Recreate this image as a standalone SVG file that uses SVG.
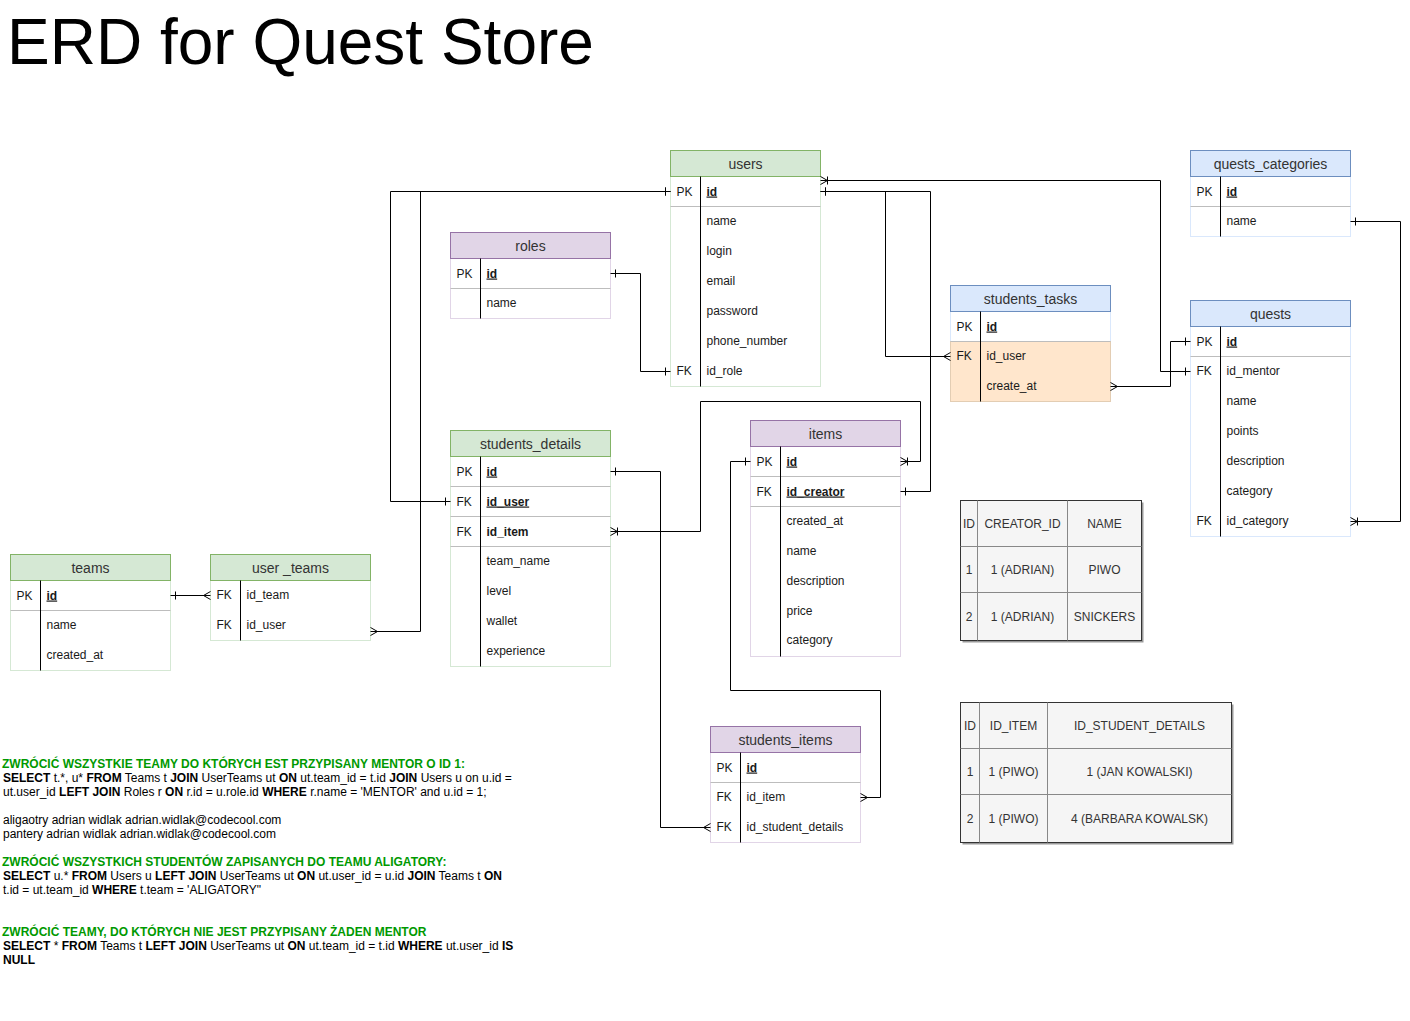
<svg xmlns="http://www.w3.org/2000/svg" width="1410" height="1021" viewBox="0 0 1410 1021">
<style>
text{font-family:"Liberation Sans",Arial,Helvetica,sans-serif}
.title{font-size:64px;fill:#000}
.ht{font-size:14px;fill:#333;text-anchor:middle}
.k,.f{font-size:12px;fill:#1a1a1a}
.pk{font-weight:bold;text-decoration:underline}
.bo{font-weight:bold}
.sep{stroke:#bdbdbd;stroke-width:1}
.kd{stroke:#000;stroke-width:1}
.hg{fill:#d5e8d4;stroke:#82b366}
.bg{fill:#fff;stroke:#d5e8d4}
.hp{fill:#e1d5e7;stroke:#9673a6}
.bp{fill:#fff;stroke:#e1d5e7}
.hb{fill:#dae8fc;stroke:#6c8ebf}
.bb{fill:#fff;stroke:#dae8fc}
.orange{fill:#ffe6cc;stroke:#e3cdb3}
#connectors path{fill:none;stroke:#000;stroke-width:1}
.mk{fill:none;stroke:#000;stroke-width:1}
.dts{fill:#999;stroke:none}
.dtr{fill:#f5f5f5;stroke:#333}
.dtl{stroke:#888;stroke-width:1}
.dtt{font-size:12px;fill:#333;text-anchor:middle}
.q{font-size:12px;fill:#000}
.qg{font-size:12px;font-weight:bold;fill:#009900}
</style>
<defs>
<marker id="oneE" viewBox="-10 -10 20 20" markerWidth="20" markerHeight="20" refX="0" refY="0" orient="auto" markerUnits="userSpaceOnUse"><path class="mk" d="M-5,-4 V4"/></marker>
<marker id="manyE" viewBox="-10 -10 20 20" markerWidth="20" markerHeight="20" refX="0" refY="0" orient="auto" markerUnits="userSpaceOnUse"><path class="mk" d="M-7,0 L0,-4 M-7,0 L0,4"/></marker>
<marker id="omE" viewBox="-10 -10 20 20" markerWidth="20" markerHeight="20" refX="0" refY="0" orient="auto" markerUnits="userSpaceOnUse"><path class="mk" d="M-7,0 L0,-4 M-7,0 L0,4 M-7,-4 V4"/></marker>
<marker id="oneS" viewBox="-10 -10 20 20" markerWidth="20" markerHeight="20" refX="0" refY="0" orient="auto" markerUnits="userSpaceOnUse"><path class="mk" d="M5,-4 V4"/></marker>
<marker id="manyS" viewBox="-10 -10 20 20" markerWidth="20" markerHeight="20" refX="0" refY="0" orient="auto" markerUnits="userSpaceOnUse"><path class="mk" d="M7,0 L0,-4 M7,0 L0,4"/></marker>
<marker id="omS" viewBox="-10 -10 20 20" markerWidth="20" markerHeight="20" refX="0" refY="0" orient="auto" markerUnits="userSpaceOnUse"><path class="mk" d="M7,0 L0,-4 M7,0 L0,4 M7,-4 V4"/></marker>
</defs>
<rect width="1410" height="1021" fill="#fff"/>
<text class="title" x="7" y="64">ERD for Quest Store</text>
<g transform="translate(0.5,0.5)">

<g id="users">
<rect class="bg" x="670" y="176" width="150" height="210"/>
<rect class="hg" x="670" y="150" width="150" height="26"/>
<line class="sep" x1="670" y1="206" x2="820" y2="206"/>
<line class="kd" x1="700" y1="176" x2="700" y2="386"/>
<text class="ht" x="745" y="168">users</text>
<text class="k" x="676" y="195">PK</text><text class="f pk" x="706" y="195">id</text>
<text class="f" x="706" y="224">name</text>
<text class="f" x="706" y="254">login</text>
<text class="f" x="706" y="284">email</text>
<text class="f" x="706" y="314">password</text>
<text class="f" x="706" y="344">phone_number</text>
<text class="k" x="676" y="374">FK</text><text class="f" x="706" y="374">id_role</text>
</g>

<g id="roles">
<rect class="bp" x="450" y="258" width="160" height="60"/>
<rect class="hp" x="450" y="232" width="160" height="26"/>
<line class="sep" x1="450" y1="288" x2="610" y2="288"/>
<line class="kd" x1="480" y1="258" x2="480" y2="318"/>
<text class="ht" x="530" y="250">roles</text>
<text class="k" x="456" y="277">PK</text><text class="f pk" x="486" y="277">id</text>
<text class="f" x="486" y="306">name</text>
</g>

<g id="students_details">
<rect class="bg" x="450" y="456" width="160" height="210"/>
<rect class="hg" x="450" y="430" width="160" height="26"/>
<line class="sep" x1="450" y1="486" x2="610" y2="486"/>
<line class="sep" x1="450" y1="516" x2="610" y2="516"/>
<line class="sep" x1="450" y1="546" x2="610" y2="546"/>
<line class="kd" x1="480" y1="456" x2="480" y2="666"/>
<text class="ht" x="530" y="448">students_details</text>
<text class="k" x="456" y="475">PK</text><text class="f pk" x="486" y="475">id</text>
<text class="k" x="456" y="505">FK</text><text class="f pk" x="486" y="505">id_user</text>
<text class="k" x="456" y="535">FK</text><text class="f bo" x="486" y="535">id_item</text>
<text class="f" x="486" y="564">team_name</text>
<text class="f" x="486" y="594">level</text>
<text class="f" x="486" y="624">wallet</text>
<text class="f" x="486" y="654">experience</text>
</g>

<g id="teams">
<rect class="bg" x="10" y="580" width="160" height="90"/>
<rect class="hg" x="10" y="554" width="160" height="26"/>
<line class="sep" x1="10" y1="610" x2="170" y2="610"/>
<line class="kd" x1="40" y1="580" x2="40" y2="670"/>
<text class="ht" x="90" y="572">teams</text>
<text class="k" x="16" y="599">PK</text><text class="f pk" x="46" y="599">id</text>
<text class="f" x="46" y="628">name</text>
<text class="f" x="46" y="658">created_at</text>
</g>

<g id="user_teams">
<rect class="bg" x="210" y="580" width="160" height="60"/>
<rect class="hg" x="210" y="554" width="160" height="26"/>
<line class="kd" x1="240" y1="580" x2="240" y2="640"/>
<text class="ht" x="290" y="572">user _teams</text>
<text class="k" x="216" y="598">FK</text><text class="f" x="246" y="598">id_team</text>
<text class="k" x="216" y="628">FK</text><text class="f" x="246" y="628">id_user</text>
</g>

<g id="items">
<rect class="bp" x="750" y="446" width="150" height="210"/>
<rect class="hp" x="750" y="420" width="150" height="26"/>
<line class="sep" x1="750" y1="476" x2="900" y2="476"/>
<line class="sep" x1="750" y1="506" x2="900" y2="506"/>
<line class="kd" x1="780" y1="446" x2="780" y2="656"/>
<text class="ht" x="825" y="438">items</text>
<text class="k" x="756" y="465">PK</text><text class="f pk" x="786" y="465">id</text>
<text class="k" x="756" y="495">FK</text><text class="f pk" x="786" y="495">id_creator</text>
<text class="f" x="786" y="524">created_at</text>
<text class="f" x="786" y="554">name</text>
<text class="f" x="786" y="584">description</text>
<text class="f" x="786" y="614">price</text>
<text class="f" x="786" y="643">category</text>
</g>

<g id="students_items">
<rect class="bp" x="710" y="752" width="150" height="90"/>
<rect class="hp" x="710" y="726" width="150" height="26"/>
<line class="sep" x1="710" y1="782" x2="860" y2="782"/>
<line class="kd" x1="740" y1="752" x2="740" y2="842"/>
<text class="ht" x="785" y="744">students_items</text>
<text class="k" x="716" y="771">PK</text><text class="f pk" x="746" y="771">id</text>
<text class="k" x="716" y="800">FK</text><text class="f" x="746" y="800">id_item</text>
<text class="k" x="716" y="830">FK</text><text class="f" x="746" y="830">id_student_details</text>
</g>

<g id="students_tasks">
<rect class="bb" x="950" y="311" width="160" height="90"/>
<rect class="orange" x="950" y="341" width="160" height="60"/>
<rect class="hb" x="950" y="285" width="160" height="26"/>
<line class="sep" x1="950" y1="341" x2="1110" y2="341"/>
<line class="kd" x1="980" y1="311" x2="980" y2="401"/>
<text class="ht" x="1030" y="303">students_tasks</text>
<text class="k" x="956" y="330">PK</text><text class="f pk" x="986" y="330">id</text>
<text class="k" x="956" y="359">FK</text><text class="f" x="986" y="359">id_user</text>
<text class="f" x="986" y="389">create_at</text>
</g>

<g id="quests_categories">
<rect class="bb" x="1190" y="176" width="160" height="60"/>
<rect class="hb" x="1190" y="150" width="160" height="26"/>
<line class="sep" x1="1190" y1="206" x2="1350" y2="206"/>
<line class="kd" x1="1220" y1="176" x2="1220" y2="236"/>
<text class="ht" x="1270" y="168">quests_categories</text>
<text class="k" x="1196" y="195">PK</text><text class="f pk" x="1226" y="195">id</text>
<text class="f" x="1226" y="224">name</text>
</g>

<g id="quests">
<rect class="bb" x="1190" y="326" width="160" height="210"/>
<rect class="hb" x="1190" y="300" width="160" height="26"/>
<line class="sep" x1="1190" y1="356" x2="1350" y2="356"/>
<line class="kd" x1="1220" y1="326" x2="1220" y2="536"/>
<text class="ht" x="1270" y="318">quests</text>
<text class="k" x="1196" y="345">PK</text><text class="f pk" x="1226" y="345">id</text>
<text class="k" x="1196" y="374">FK</text><text class="f" x="1226" y="374">id_mentor</text>
<text class="f" x="1226" y="404">name</text>
<text class="f" x="1226" y="434">points</text>
<text class="f" x="1226" y="464">description</text>
<text class="f" x="1226" y="494">category</text>
<text class="k" x="1196" y="524">FK</text><text class="f" x="1226" y="524">id_category</text>
</g>

<g id="connectors">
<path d="M670,191 H390 V501 H450" marker-start="url(#oneS)" marker-end="url(#oneE)"/>
<path d="M670,191 H420 V631 H370" marker-start="url(#oneS)" marker-end="url(#manyE)"/>
<path d="M610,273 H640 V371 H670" marker-start="url(#oneS)" marker-end="url(#oneE)"/>
<path d="M820,191 H885 V356 H950" marker-start="url(#oneS)" marker-end="url(#manyE)"/>
<path d="M820,191 H930 V491 H900" marker-start="url(#oneS)" marker-end="url(#oneE)"/>
<path d="M820,180 H1160 V371 H1190" marker-start="url(#omS)" marker-end="url(#oneE)"/>
<path d="M1110,386 H1170 V341 H1190" marker-start="url(#manyS)" marker-end="url(#oneE)"/>
<path d="M1350,221 H1400 V521 H1350" marker-start="url(#oneS)" marker-end="url(#omE)"/>
<path d="M610,471 H660 V827 H710" marker-start="url(#oneS)" marker-end="url(#manyE)"/>
<path d="M610,531 H700 V401 H920 V461 H900" marker-start="url(#omS)" marker-end="url(#omE)"/>
<path d="M750,461 H730 V690 H880 V797 H860" marker-start="url(#oneS)" marker-end="url(#manyE)"/>
<path d="M170,595 H210" marker-start="url(#oneS)" marker-end="url(#manyE)"/>
</g>

<g id="items_data">
<rect class="dts" x="962" y="502" width="181" height="140"/>
<rect class="dtr" x="960" y="500" width="181" height="140"/>
<line class="dtl" x1="977" y1="500" x2="977" y2="640"/>
<line class="dtl" x1="1067" y1="500" x2="1067" y2="640"/>
<line class="dtl" x1="960" y1="546" x2="1141" y2="546"/>
<line class="dtl" x1="960" y1="592" x2="1141" y2="592"/>
<text class="dtt" x="968.5" y="527">ID</text>
<text class="dtt" x="1022" y="527">CREATOR_ID</text>
<text class="dtt" x="1104" y="527">NAME</text>
<text class="dtt" x="968.5" y="573">1</text>
<text class="dtt" x="1022" y="573">1 (ADRIAN)</text>
<text class="dtt" x="1104" y="573">PIWO</text>
<text class="dtt" x="968.5" y="620">2</text>
<text class="dtt" x="1022" y="620">1 (ADRIAN)</text>
<text class="dtt" x="1104" y="620">SNICKERS</text>
</g>

<g id="students_items_data">
<rect class="dts" x="962" y="704" width="271" height="140"/>
<rect class="dtr" x="960" y="702" width="271" height="140"/>
<line class="dtl" x1="979" y1="702" x2="979" y2="842"/>
<line class="dtl" x1="1047" y1="702" x2="1047" y2="842"/>
<line class="dtl" x1="960" y1="748" x2="1231" y2="748"/>
<line class="dtl" x1="960" y1="794" x2="1231" y2="794"/>
<text class="dtt" x="969.5" y="729">ID</text>
<text class="dtt" x="1013" y="729">ID_ITEM</text>
<text class="dtt" x="1139" y="729">ID_STUDENT_DETAILS</text>
<text class="dtt" x="969.5" y="775">1</text>
<text class="dtt" x="1013" y="775">1 (PIWO)</text>
<text class="dtt" x="1139" y="775">1 (JAN KOWALSKI)</text>
<text class="dtt" x="969.5" y="822">2</text>
<text class="dtt" x="1013" y="822">1 (PIWO)</text>
<text class="dtt" x="1139" y="822">4 (BARBARA KOWALSK)</text>
</g>
</g>

<g id="notes">
<text class="qg" x="2" y="768">ZWRÓCIĆ WSZYSTKIE TEAMY DO KTÓRYCH EST PRZYPISANY MENTOR O ID 1:</text>
<text class="q" x="3" y="782"><tspan class="bo">SELECT</tspan> t.*, u* <tspan class="bo">FROM</tspan> Teams t <tspan class="bo">JOIN</tspan> UserTeams ut <tspan class="bo">ON</tspan> ut.team_id = t.id <tspan class="bo">JOIN</tspan> Users u on u.id =</text>
<text class="q" x="3" y="796">ut.user_id <tspan class="bo">LEFT JOIN</tspan> Roles r <tspan class="bo">ON</tspan> r.id = u.role.id <tspan class="bo">WHERE</tspan> r.name = 'MENTOR' and u.id = 1;</text>
<text class="q" x="3" y="824">aligaotry adrian widlak adrian.widlak@codecool.com</text>
<text class="q" x="3" y="838">pantery adrian widlak adrian.widlak@codecool.com</text>
<text class="qg" x="2" y="866">ZWRÓCIĆ WSZYSTKICH STUDENTÓW ZAPISANYCH DO TEAMU ALIGATORY:</text>
<text class="q" x="3" y="880"><tspan class="bo">SELECT</tspan> u.* <tspan class="bo">FROM</tspan> Users u <tspan class="bo">LEFT JOIN</tspan> UserTeams ut <tspan class="bo">ON</tspan> ut.user_id = u.id <tspan class="bo">JOIN</tspan> Teams t <tspan class="bo">ON</tspan></text>
<text class="q" x="3" y="894">t.id = ut.team_id <tspan class="bo">WHERE</tspan> t.team = 'ALIGATORY"</text>
<text class="qg" x="2" y="936">ZWRÓCIĆ TEAMY, DO KTÓRYCH NIE JEST PRZYPISANY ŻADEN MENTOR</text>
<text class="q" x="3" y="950"><tspan class="bo">SELECT</tspan> * <tspan class="bo">FROM</tspan> Teams t <tspan class="bo">LEFT JOIN</tspan> UserTeams ut <tspan class="bo">ON</tspan> ut.team_id = t.id <tspan class="bo">WHERE</tspan> ut.user_id <tspan class="bo">IS</tspan></text>
<text class="q bo" x="3" y="964">NULL</text>
</g>
</svg>
